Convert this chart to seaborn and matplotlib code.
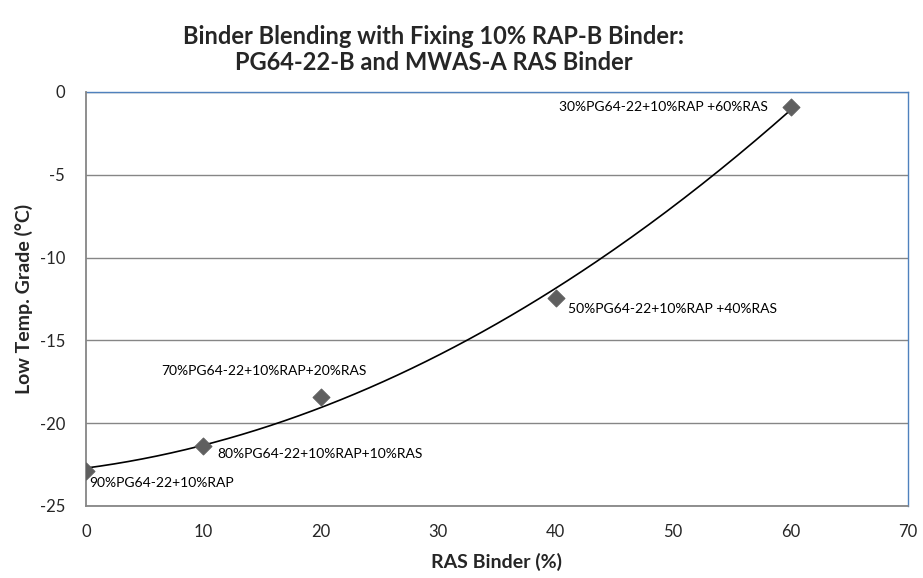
import numpy as np
import pandas as pd
import matplotlib.pyplot as plt
import seaborn as sns

# data
ras_binder = [0, 10, 20, 40, 60]
low_temp_grade = [-22.9, -21.35, -18.45, -12.45, -0.9]
blend_labels = ['90%PG64-22+10%RAP',
                '80%PG64-22+10%RAP+10%RAS',
                '70%PG64-22+10%RAP+20%RAS',
                '50%PG64-22+10%RAP +40%RAS',
                '30%PG64-22+10%RAP +60%RAS']
x_ticks = [0, 10, 20, 30, 40, 50, 60, 70]
y_ticks = [-25, -20, -15, -10, -5, 0]

# label placement (offset in pixels, alignment)
label_style = [((3, -12), 'left'),
               ((14, -8), 'left'),
               ((-57, 26), 'center'),
               ((12, -11), 'left'),
               ((-23, 0), 'right')]

df = pd.DataFrame({'ras': ras_binder, 'grade': low_temp_grade})

# polynomial trendline (order 2), like Excel
coef = np.polyfit(df['ras'], df['grade'], 2)
x_fit = np.linspace(min(ras_binder), max(ras_binder), 200)
trend = pd.DataFrame({'ras': x_fit, 'grade': np.polyval(coef, x_fit)})

sns.set_style('white')
plt.rcParams['font.family'] = ['Lato', 'DejaVu Sans']
plt.rcParams['axes.unicode_minus'] = False

fig = plt.figure(figsize=(9.23, 5.78), dpi=100)
ax = fig.add_axes([0.0932, 0.1246, 0.8905, 0.7164])

sns.lineplot(data=trend, x='ras', y='grade', color='black', linewidth=1.2, ax=ax)
sns.scatterplot(data=df, x='ras', y='grade', marker='D', s=75, color='#5f5f5f',
                edgecolor='#5f5f5f', zorder=5, ax=ax)

for x, y, text, (offset, ha) in zip(ras_binder, low_temp_grade, blend_labels, label_style):
    ax.annotate(text, (x, y), xytext=(offset[0] * 0.72, offset[1] * 0.72),
                textcoords='offset points', ha=ha, va='center', fontsize=10,
                color='black')

ax.set_xlim(0, 70)
ax.set_ylim(-25, 0)
ax.set_xticks(x_ticks)
ax.set_yticks(y_ticks)
ax.grid(axis='y', color='#868686', linewidth=1)
ax.set_axisbelow(True)

for side in ['top', 'right']:
    ax.spines[side].set_color('#4f81bd')
    ax.spines[side].set_linewidth(1)
for side in ['left', 'bottom']:
    ax.spines[side].set_color('#868686')
    ax.spines[side].set_linewidth(1.3)
    ax.spines[side].set_zorder(3)

ax.tick_params(axis='both', which='major', direction='out', length=4, width=1,
               color='#868686', labelsize=12)
ax.tick_params(axis='x', pad=9)
ax.tick_params(axis='y', pad=11)

ax.set_xlabel('RAS Binder (%)', fontsize=14, fontweight='bold', va='center')
ax.set_ylabel('Low Temp. Grade (°C)', fontsize=14, fontweight='bold', va='center')
ax.xaxis.set_label_coords(0.5, -0.135)
ax.yaxis.set_label_coords(-0.0754, 0.5)

fig.text(0.47, 1 - 36 / 578, 'Binder Blending with Fixing 10% RAP-B Binder:',
         fontsize=17, fontweight='bold', ha='center', va='center')
fig.text(0.47, 1 - 62 / 578, 'PG64-22-B and MWAS-A RAS Binder',
         fontsize=17, fontweight='bold', ha='center', va='center')

fig.savefig('out.png', dpi=100)
